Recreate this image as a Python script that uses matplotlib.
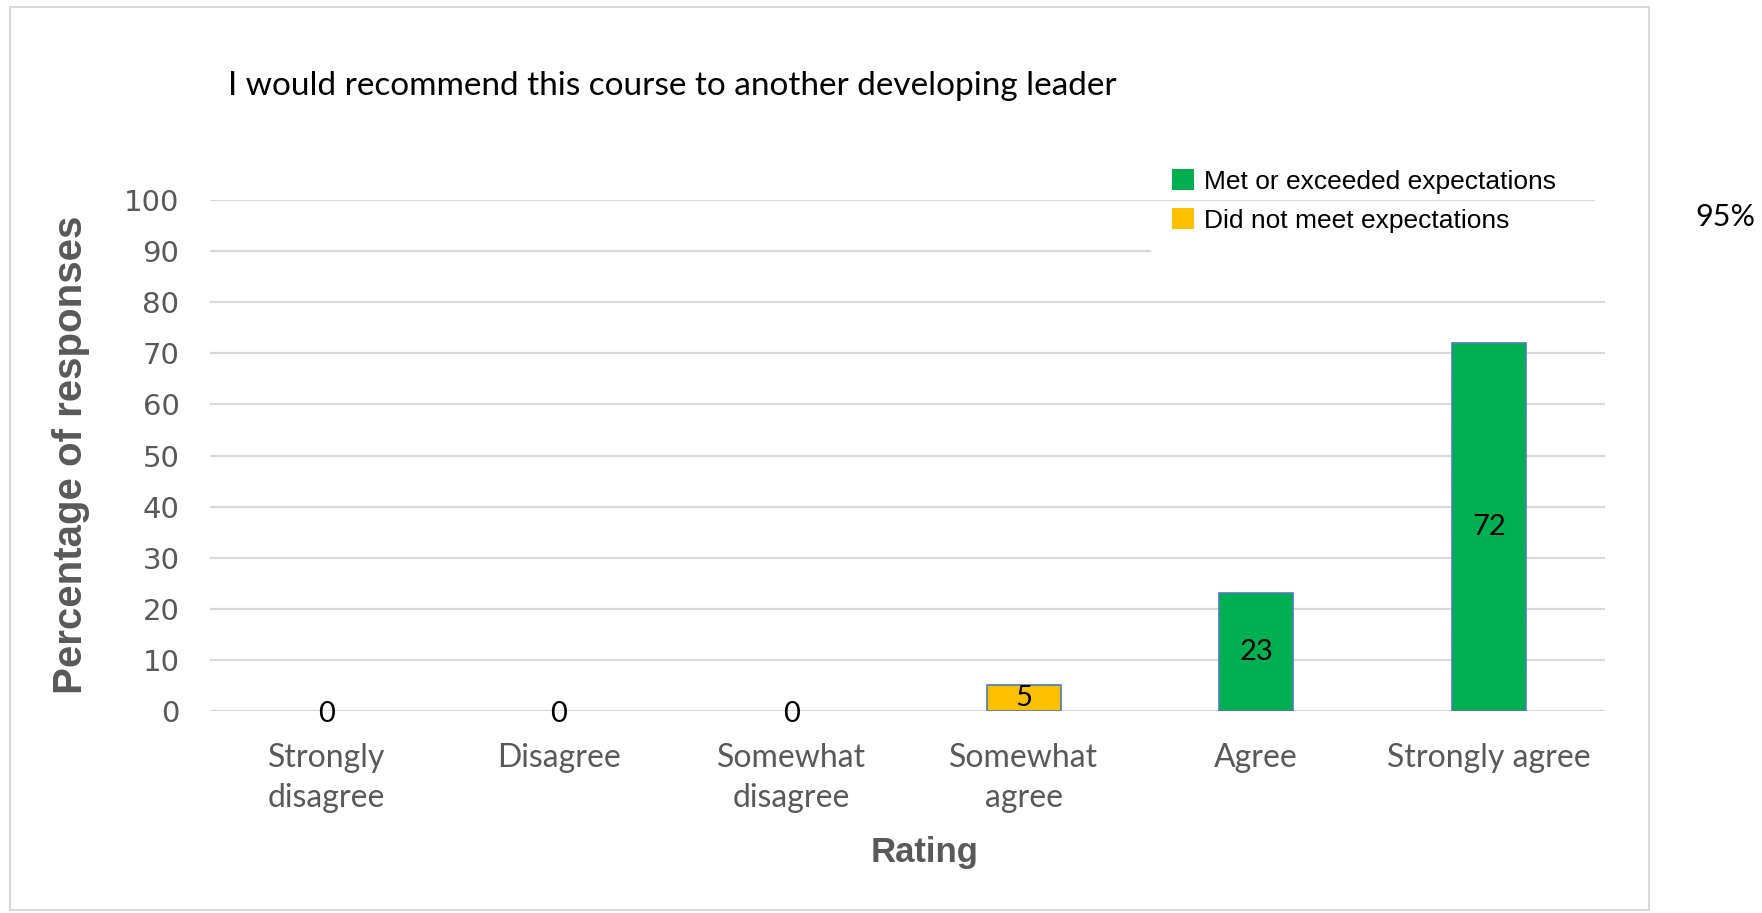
import matplotlib
matplotlib.use("Agg")
import matplotlib.pyplot as plt
from matplotlib.patches import Patch, Rectangle
import matplotlib.patheffects as pe

# Survey results
ratings = ["Strongly\ndisagree", "Disagree", "Somewhat\ndisagree",
           "Somewhat\nagree", "Agree", "Strongly agree"]
percentages = [0, 0, 0, 5, 23, 72]
met_expectations = [False, False, False, False, True, True]
y_ticks = [0, 10, 20, 30, 40, 50, 60, 70, 80, 90, 100]
legend_labels = ["Met or exceeded expectations", "Did not meet expectations"]
title = "I would recommend this course to another developing leader"
summary = "95%"

GREEN = "#00B050"
YELLOW = "#FFC000"
EDGE = "#4A7EBB"
GRAY_TEXT = "#595959"
GRID = "#D9D9D9"

W, H = 1762, 913
fig = plt.figure(figsize=(W / 100, H / 100), dpi=100)
ax = fig.add_axes([210 / W, 202 / H, 1395 / W, 511 / H])

x = list(range(len(ratings)))
colors = [GREEN if m else YELLOW for m in met_expectations]
edges = [EDGE if v > 0 else "none" for v in percentages]

# horizontal gridlines; the top two stop short where the legend sits
grid_ends = {90: 0.674, 100: 0.992}
for t in y_ticks:
    ax.axhline(t, xmin=0, xmax=grid_ends.get(t, 1.0), color=GRID,
               linewidth=1.6, zorder=0)

bars = ax.bar(x, percentages, width=0.32, color=colors, edgecolor=edges,
              linewidth=1.2, zorder=3)
for b, v in zip(bars, percentages):
    if v > 0:
        b.set_path_effects([pe.SimplePatchShadow(offset=(0, -3), shadow_rgbFace="gray", alpha=0.35),
                            pe.Normal()])

# value labels in the middle of each bar
for i, v in enumerate(percentages):
    ax.text(i, v / 2 if v else -0.6, str(v), ha="center", va="center",
            fontsize=21, family="Lato", color="black", zorder=5)

ax.set_xlim(-0.5, len(ratings) - 0.5)
ax.set_ylim(0, 100)
ax.set_yticks(y_ticks)
ax.set_xticks(x)
ax.set_xticklabels(ratings, family="Lato", fontsize=23, color=GRAY_TEXT,
                   linespacing=1.4)
ax.set_yticklabels([str(t) for t in y_ticks], family="DejaVu Sans",
                   fontsize=21, color=GRAY_TEXT)
ax.tick_params(axis="both", length=0)
ax.tick_params(axis="x", pad=23)
ax.tick_params(axis="y", pad=22)
for s in ax.spines.values():
    s.set_visible(False)

ax.set_xlabel("Rating", family="Liberation Sans", fontweight="bold",
              fontsize=25, color=GRAY_TEXT)
ax.xaxis.set_label_coords(0.512, -0.244)
ax.set_ylabel("Percentage of responses", family="Liberation Sans",
              fontweight="bold", fontsize=29, color=GRAY_TEXT)
ax.yaxis.set_label_coords(-0.086, 0.501)

handles = [Patch(facecolor=GREEN), Patch(facecolor=YELLOW)]
fig.legend(handles, legend_labels, loc="upper left",
           bbox_to_anchor=(1172 / W, 1 - 169 / H), frameon=False,
           prop={"family": "Liberation Sans", "size": 19},
           handlelength=0.85, handleheight=0.85, handletextpad=0.35,
           labelspacing=0.55, borderpad=0, borderaxespad=0)

fig.text(228 / W, 1 - 86 / H, title, ha="left", va="center",
         family="Lato", fontsize=24, color="black")
fig.text(1755 / W, 1 - 217 / H, summary, ha="right", va="center",
         family="Lato", fontsize=22, color="black")

# light frame around the chart area
fig.add_artist(Rectangle((10 / W, 3 / H), 1639 / W, 903 / H,
                         transform=fig.transFigure, fill=False,
                         edgecolor="#D9D9D9", linewidth=1.5))

fig.savefig("out.png", dpi=100, facecolor="white")
